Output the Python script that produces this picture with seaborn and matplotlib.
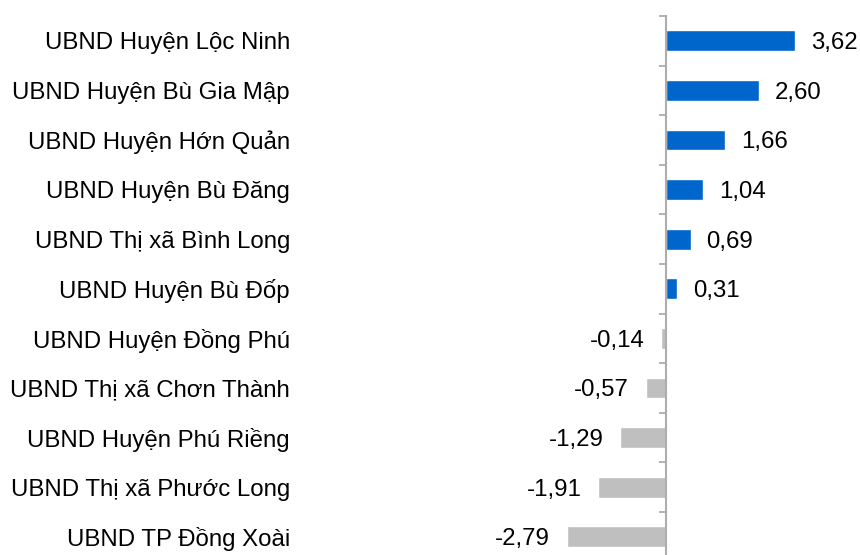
import matplotlib
matplotlib.use("Agg")
import matplotlib.pyplot as plt
import matplotlib.transforms as mtransforms
import seaborn as sns
import pandas as pd

units = [
    "UBND Huyện Lộc Ninh",
    "UBND Huyện Bù Gia Mập",
    "UBND Huyện Hớn Quản",
    "UBND Huyện Bù Đăng",
    "UBND Thị xã Bình Long",
    "UBND Huyện Bù Đốp",
    "UBND Huyện Đồng Phú",
    "UBND Thị xã Chơn Thành",
    "UBND Huyện Phú Riềng",
    "UBND Thị xã Phước Long",
    "UBND TP Đồng Xoài",
]
scores = [3.62, 2.60, 1.66, 1.04, 0.69, 0.31, -0.14, -0.57, -1.29, -1.91, -2.79]

sns.set_theme(style="white")
plt.rcParams["font.family"] = ["Liberation Sans", "DejaVu Sans"]

df = pd.DataFrame({"unit": units, "score": scores})
df["sign"] = ["pos" if v >= 0 else "neg" for v in scores]

fig = plt.figure(figsize=(8.6, 5.55), dpi=100)
ax = fig.add_axes([300 / 860, 1 - 561.6 / 555, 545 / 860, 545.6 / 555])

sns.barplot(
    data=df, x="score", y="unit", hue="sign", orient="h",
    palette={"pos": "#0066CC", "neg": "#BFBFBF"},
    width=0.42, dodge=False, legend=False, ax=ax, saturation=1,
)

px_per_unit = 35.6
ax.set_xlim(-(666 - 300) / px_per_unit, (845 - 666) / px_per_unit)
ax.set_ylim(len(units) - 0.5, -0.5)

for s in ["top", "right", "bottom"]:
    ax.spines[s].set_visible(False)
ax.spines["left"].set_position(("data", 0))
ax.spines["left"].set_color("#ADADAD")
ax.spines["left"].set_linewidth(1.5)
ax.spines["left"].set_zorder(3)

ax.set_xticks([])
ax.set_yticks([i - 0.5 for i in range(len(units) + 1)])
ax.set_yticklabels([])
ax.tick_params(axis="y", length=5, width=1.3, color="#ADADAD", direction="out", left=True)
ax.set_xlabel("")
ax.set_ylabel("")

fs = 17.3
dy = 0.05  # small downward nudge for the text baselines

# category names, right-aligned in the left margin
trans = mtransforms.blended_transform_factory(fig.transFigure, ax.transData)
for i, name in enumerate(units):
    ax.text(290 / 860, i + dy, name, transform=trans, ha="right", va="center",
            fontsize=fs, color="#000000")

# value labels beside each bar
for i, v in enumerate(scores):
    label = f"{v:.2f}".replace(".", ",")
    if v >= 0:
        ax.annotate(label, (v, i + dy), xytext=(11.5, 0), textcoords="offset points",
                    ha="left", va="center", fontsize=fs, color="#000000")
    else:
        ax.annotate(label, (v, i + dy), xytext=(-12, 0), textcoords="offset points",
                    ha="right", va="center", fontsize=fs, color="#000000")

fig.savefig("out.png", dpi=100)
